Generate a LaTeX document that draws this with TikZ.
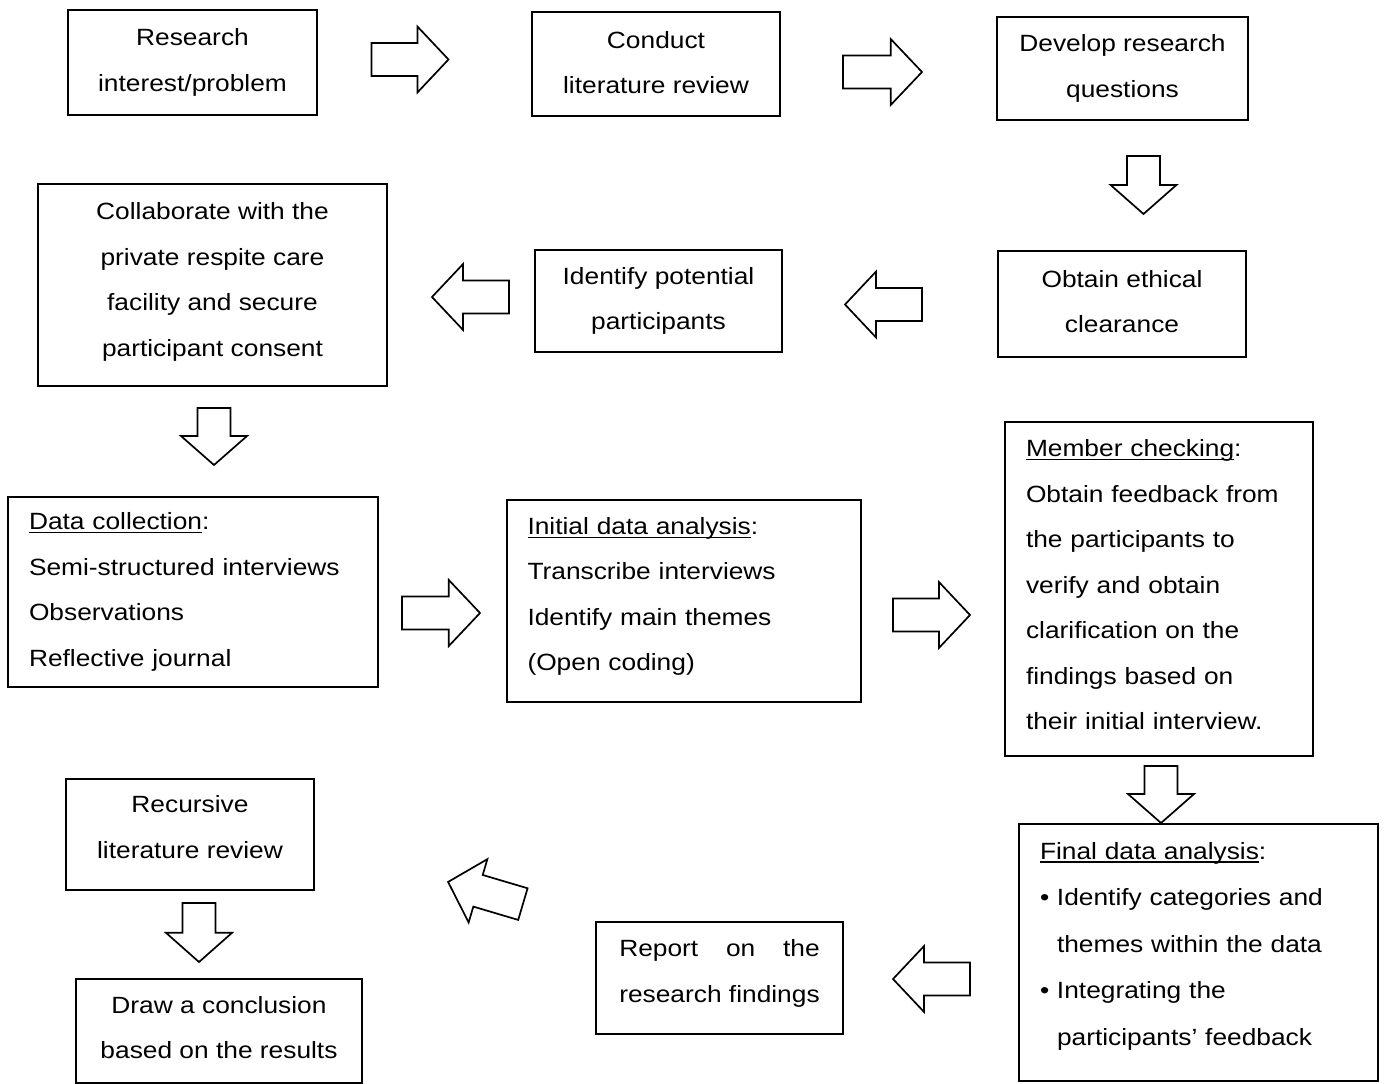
\documentclass[tikz,border=0pt]{standalone}
\usepackage{fontspec}
\setmainfont[FakeStretch=1.12]{Liberation Sans}
% underline set just below the baseline, crossing descenders
\newcommand\ulword[1]{\setbox0\hbox{#1}\rlap{\rule[-3.5pt]{\wd0}{1.3pt}}#1}
\begin{document}
\begin{tikzpicture}[x=1pt,y=-1pt,
  every node/.style={font=\fontsize{23.5}{45.5}\selectfont},
  box/.style={draw,line width=1.3pt,inner sep=0pt,align=center},
  lbox/.style={draw,line width=1.3pt,inner ysep=0pt,inner xsep=21pt,align=left},
  arrowline/.style={draw,line width=1.7pt,line join=miter,fill=white},
  pics/barrow/.style={code={
    \draw[arrowline] ({-#1/2},-16.5) -- ({#1/2-0.105*#1-23},-16.5)
      -- ({#1/2-0.105*#1-23},-33) -- ({#1/2},0) -- ({#1/2-0.105*#1-23},33)
      -- ({#1/2-0.105*#1-23},16.5) -- ({-#1/2},16.5) -- cycle;}}]
\fill[white] (0,0) rectangle (1384,1084);
\useasboundingbox (0,0) rectangle (1384,1084);

% process steps
\node[box,minimum width=249,minimum height=105] (r1) at (192.5,62.5)
  {Research\\interest/problem};
\node[box,minimum width=248,minimum height=104,text depth=3] (r2) at (656,64)
  {Conduct\\literature review};
\node[box,minimum width=251,minimum height=103] (r3) at (1122.5,68.5)
  {Develop research\\questions};
\node[box,minimum width=248,minimum height=106,text depth=5] (r4) at (1122,304)
  {Obtain ethical\\clearance};
\node[box,minimum width=247,minimum height=102] (r5) at (658.5,301)
  {Identify potential\\participants};
\node[box,minimum width=349,minimum height=202,text depth=11] (r6) at (212.5,285)
  {Collaborate with the\\private respite care\\facility and secure\\participant consent};
\node[lbox,text width=328,minimum height=190] (r7) at (193,592)
  {\ulword{Data collection}:\\Semi-structured interviews\\Observations\\Reflective journal};
\node[lbox,text width=313,inner xsep=20.5pt,minimum height=202,text depth=150.4] (r8) at (684,601)
  {\ulword{Initial data analysis}:\\Transcribe interviews\\Identify main themes\\(Open coding)};
\node[lbox,text width=266,minimum height=334,text depth=281.3] (r9) at (1159,589)
  {\ulword{Member checking}:\\Obtain feedback from\\the participants to\\verify and obtain\\clarification on the\\findings based on\\their initial interview.};
\node[lbox,text width=317,minimum height=257,text depth=203.9,
      font=\fontsize{23.5}{46.5}\selectfont] (r10) at (1198.5,952.5)
  {\ulword{Final data analysis}:\\
   \makebox[17pt][l]{\textbullet}Identify categories and\\
   \hspace*{17pt}themes within the data\\
   \makebox[17pt][l]{\textbullet}Integrating the\\
   \hspace*{17pt}participants' feedback};
\node[box,minimum width=247,minimum height=112,text depth=14] (r11) at (719.5,978)
  {\setbox0\hbox{research findings}\hbox to\wd0{Report\hfill on\hfill the}\\research findings};
\node[box,minimum width=248,minimum height=111,text depth=15] (r12) at (190,834.5)
  {Recursive\\literature review};
\node[box,minimum width=286,minimum height=104,text depth=7] (r13) at (219,1031)
  {Draw a conclusion\\based on the results};

% block arrows between the steps
\pic at (410,59.5) {barrow=77};
\pic at (882.5,72) {barrow=79};
\pic[rotate=-90] at (1143.5,185) {barrow=58};
\pic[rotate=180] at (883.5,304.5) {barrow=77};
\pic[rotate=180] at (470.5,297) {barrow=77};
\pic[rotate=-90] at (214,436.5) {barrow=57};
\pic at (441,613) {barrow=78};
\pic at (931.5,615) {barrow=77};
\pic[rotate=-90] at (1161,794.5) {barrow=57};
\pic[rotate=180] at (931.5,979) {barrow=77};
\pic[rotate=163.5] at (485.5,893) {barrow=78};
\pic[rotate=-90] at (199,932.5) {barrow=59};
\end{tikzpicture}
\end{document}
